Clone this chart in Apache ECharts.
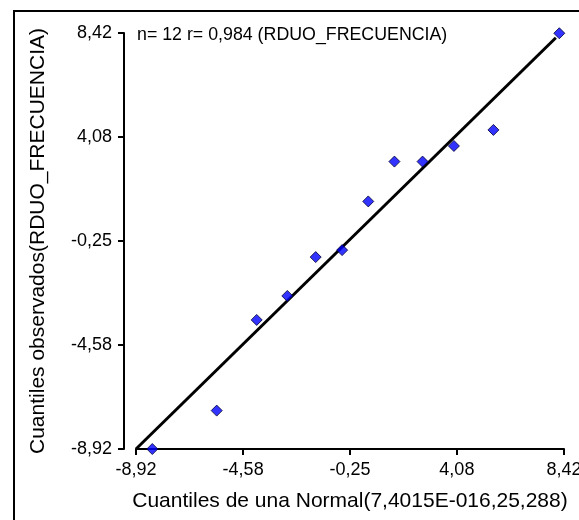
<!doctype html>
<html>
	<head>
		<meta charset="UTF-8">
		<title>Cuantiles</title>
		<script src="https://cdn.jsdelivr.net/npm/echarts@6/dist/echarts.min.js"></script>
		<style>
			html, body { margin: 0; padding: 0; background: #fff; }
			#chart { width: 579px; height: 520px; }
		</style>
	</head>
	<body>
		<div id="chart"></div>
		<script type="text/javascript">
			// cuantiles teoricos (eje x) y observados (eje y)
			var normalQ = [-8.26, -5.65, -4.03, -2.79, -1.64, -0.57, 0.49, 1.55, 2.69, 3.96, 5.56, 8.23];
			var observedQ = [-8.92, -7.32, -3.54, -2.54, -0.92, -0.63, 1.40, 3.06, 3.06, 3.71, 4.38, 8.41];
			// recta de referencia
			var lineX = [-8.92, 8.09];
			var lineY = [-8.92, 8.22];
			// marcas de los ejes
			var tickValues = [-8.92, -4.58, -0.25, 4.08, 8.42];
			var tickLabels = ['-8,92', '-4,58', '-0,25', '4,08', '8,42'];
			var infoText = 'n= 12 r= 0,984 (RDUO_FRECUENCIA)';

			var font = '"Liberation Sans", Arial, sans-serif';

			function tickLabel(v) {
				for (var i = 0; i < tickValues.length; i++) {
					if (Math.abs(v - tickValues[i]) < 0.01) return tickLabels[i];
				}
				return '';
			}

			var points = [];
			for (var i = 0; i < normalQ.length; i++) {
				points.push([normalQ[i], observedQ[i]]);
			}
			var linePts = [];
			for (var j = 0; j < lineX.length; j++) {
				linePts.push([lineX[j], lineY[j]]);
			}

			var axisCommon = {
				type: 'value',
				min: -8.92,
				max: 8.42,
				splitLine: { show: false },
				axisLine: { show: true, onZero: false, lineStyle: { color: '#000', width: 2 } },
				axisTick: { show: true, length: 6, lineStyle: { color: '#000', width: 2 }, customValues: tickValues },
				axisLabel: {
					color: '#000', fontSize: 18, fontFamily: font,
					customValues: tickValues,
					formatter: tickLabel
				},
				nameLocation: 'middle',
				nameTextStyle: { color: '#000', fontSize: 21, fontFamily: font }
			};

			var option = {
				animation: false,
				backgroundColor: '#fff',
				grid: { left: 136, right: 15, top: 33, bottom: 71, outerBoundsMode: 'none', containLabel: false },
				xAxis: Object.assign({}, axisCommon, {
					name: 'Cuantiles de una Normal(7,4015E-016,25,288)',
					nameGap: 42,
					axisLabel: Object.assign({}, axisCommon.axisLabel, { margin: 12 })
				}),
				yAxis: Object.assign({}, axisCommon, {
					name: 'Cuantiles observados(RDUO_FRECUENCIA)',
					nameGap: 75,
					offset: 12,
					axisLabel: Object.assign({}, axisCommon.axisLabel, { margin: 12 })
				}),
				graphic: [{
					type: 'rect',
					shape: { x: 14, y: 11, width: 700, height: 700 },
					style: { fill: 'none', stroke: '#000', lineWidth: 2 },
					silent: true
				}, {
					type: 'text',
					x: 137,
					y: 35,
					style: {
						text: infoText,
						fill: '#000',
						font: '17.8px ' + font,
						verticalAlign: 'middle'
					}
				}],
				series: [{
					type: 'line',
					data: linePts,
					symbol: 'none',
					lineStyle: { color: '#000', width: 3 },
					z: 2
				}, {
					type: 'scatter',
					data: points,
					symbol: 'diamond',
					symbolSize: 11,
					clip: false,
					itemStyle: { color: '#0000ff', borderColor: '#000033', borderWidth: 1 },
					z: 3
				}]
			};

			var chart = echarts.init(document.getElementById('chart'));
			chart.setOption(option);
		</script>
	</body>
</html>
